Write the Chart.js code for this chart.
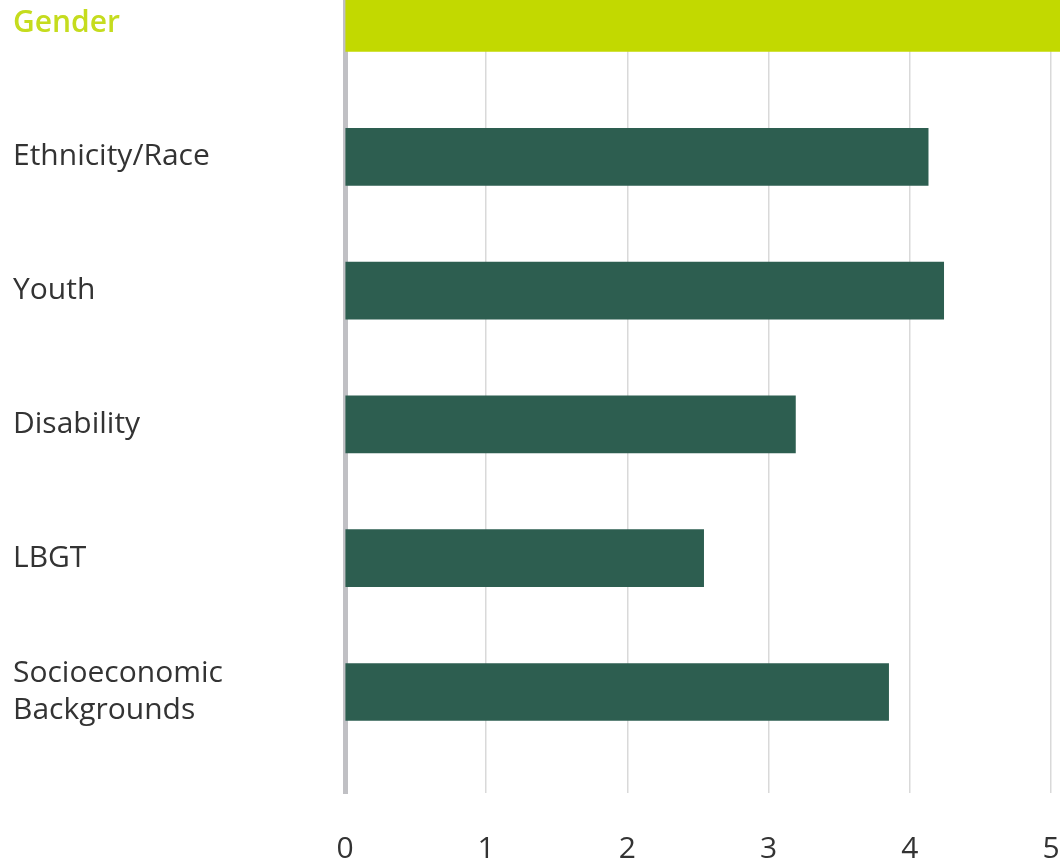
<!DOCTYPE html>
<html>
<head>
<meta charset="utf-8">
<script src="https://cdn.jsdelivr.net/npm/chart.js@4.4.1/dist/chart.umd.min.js"></script>
<style>
  html, body { margin: 0; padding: 0; background: #ffffff; overflow: hidden; }
  #wrap { width: 1060px; height: 865px; position: relative; }
</style>
</head>
<body>
<div id="wrap"><canvas id="chart"></canvas></div>
<script>
// Diversity categories and their scores (0–5 scale)
const categories = ['Gender', 'Ethnicity/Race', 'Youth', 'Disability', 'LBGT', ['Socioeconomic', 'Backgrounds']];
const scores = [5.4, 4.13, 4.24, 3.19, 2.54, 3.85];
const barColors = ['#c2d900', '#2d5e50', '#2d5e50', '#2d5e50', '#2d5e50', '#2d5e50'];
const labelColors = ['#c5dc1e', '#333333', '#333333', '#333333', '#333333', '#333333'];
const xTicks = [0, 1, 2, 3, 4, 5];

const FONT = 'Open Sans';
const points = scores.map((v, i) => ({ x: v, y: i }));

new Chart(document.getElementById('chart'), {
  type: 'bar',
  data: {
    datasets: [{
      data: points,
      backgroundColor: barColors,
      barThickness: 57,
      borderWidth: 0,
      clip: false
    }]
  },
  options: {
    indexAxis: 'y',
    responsive: true,
    maintainAspectRatio: false,
    animation: false,
    layout: { padding: { left: 13, right: 9, top: 0, bottom: 0 } },
    plugins: { legend: { display: false }, tooltip: { enabled: false } },
    scales: {
      x: {
        type: 'linear',
        min: 0,
        max: 5,
        afterBuildTicks: (scale) => { scale.ticks = xTicks.map(v => ({ value: v })); },
        afterFit: (scale) => {
          scale.height = 72;
          scale.paddingLeft = 0; scale.paddingRight = 0;
        },
        grid: {
          color: (ctx) => ctx.tick && ctx.tick.value === 0 ? 'rgba(0,0,0,0)' : '#d9d9d9',
          lineWidth: 1.5,
          drawTicks: false
        },
        border: { display: false },
        ticks: {
          padding: 38,
          color: '#333333',
          font: { family: FONT, size: 30 }
        }
      },
      y: {
        type: 'linear',
        reverse: true,
        offset: false,
        min: -0.172,
        max: 5.755,
        z: 1,
        afterBuildTicks: (scale) => { scale.ticks = categories.map((c, i) => ({ value: i })); },
        afterFit: (scale) => {
          scale.width = 332;
          scale.paddingTop = 0; scale.paddingBottom = 0;
        },
        grid: { display: false, drawTicks: false, offset: false },
        border: { display: true, color: '#c0c0c4', width: 5 },
        ticks: {
          crossAlign: 'far',
          padding: 0,
          autoSkip: false,
          color: (ctx) => labelColors[ctx.index],
          font: (ctx) => ({ family: FONT, size: 30, weight: ctx.index === 0 ? '600' : '400', lineHeight: 1.25 }),
          callback: (value) => categories[value]
        }
      }
    }
  }
});
</script>
</body>
</html>
